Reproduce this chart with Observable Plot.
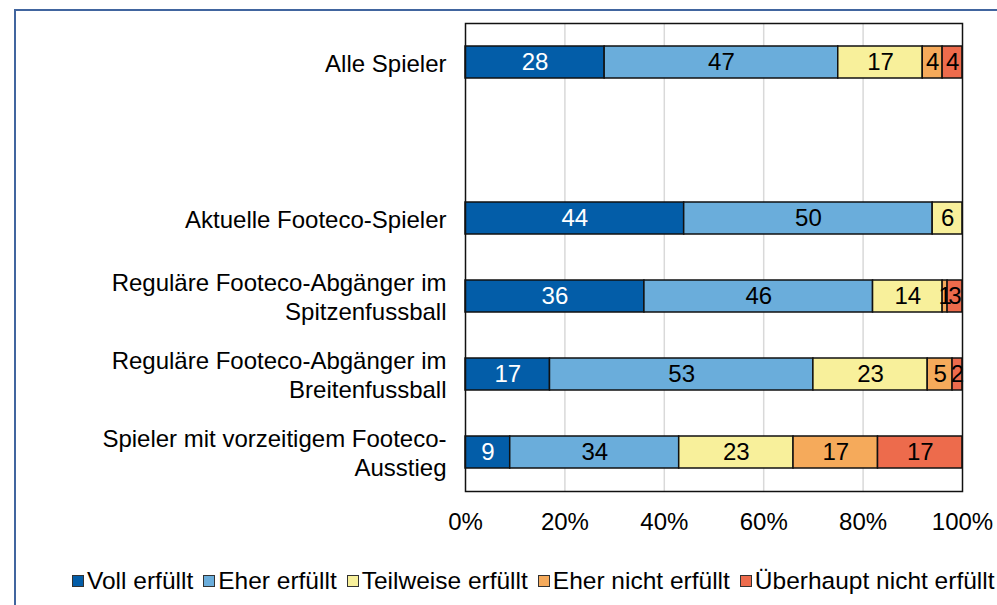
<!DOCTYPE html>
<html>
<head>
<meta charset="utf-8">
<script src="https://cdn.jsdelivr.net/npm/d3@7"></script>
<script src="https://cdn.jsdelivr.net/npm/@observablehq/plot@0.6"></script>
<style>
  html, body { margin: 0; padding: 0; background: #fff; }
  body { width: 997px; height: 605px; position: relative; overflow: hidden; font-family: "Liberation Sans", Arial, sans-serif; }
  #frame { position: absolute; left: 14px; top: 9px; width: 1200px; height: 800px; border-left: 2.5px solid #41659f; border-top: 2.5px solid #41659f; box-sizing: border-box; }
  #chart { position: absolute; left: 0; top: 0; }
  #legend { position: absolute; left: 72px; top: 567px; display: flex; align-items: center; font-size: 24.5px; color: #000; white-space: nowrap; }
  #legend .item { display: flex; align-items: center; margin-right: 10px; }
  #legend .sw { width: 10px; height: 10px; border: 1.5px solid #333; margin-right: 3px; }
</style>
</head>
<body>
<div id="frame"></div>
<div id="chart"></div>
<div id="legend"></div>
<script>
const groups = [
  "Alle Spieler",
  " ",
  "Aktuelle Footeco-Spieler",
  "Reguläre Footeco-Abgänger im\nSpitzenfussball",
  "Reguläre Footeco-Abgänger im\nBreitenfussball",
  "Spieler mit vorzeitigem Footeco-\nAusstieg"
];
const series = ["Voll erfüllt", "Eher erfüllt", "Teilweise erfüllt", "Eher nicht erfüllt", "Überhaupt nicht erfüllt"];
const colors = ["#035da8", "#6aaddb", "#f8f09b", "#f5aa5b", "#ed6b4c"];
const vollErfuellt      = [28, null, 44, 36, 17, 9];
const eherErfuellt      = [47, null, 50, 46, 53, 34];
const teilweiseErfuellt = [17, null, 6, 14, 23, 23];
const eherNichtErfuellt = [4, null, 0, 1, 5, 17];
const ueberhauptNicht   = [4, null, 0, 3, 2, 17];
const xTicks = [0, 20, 40, 60, 80, 100];
const gridTicks = [20, 40, 60, 80];

const valueArrays = [vollErfuellt, eherErfuellt, teilweiseErfuellt, eherNichtErfuellt, ueberhauptNicht];
const data = [];
groups.forEach((g, i) => {
  series.forEach((s, j) => {
    const v = valueArrays[j][i];
    if (v != null && v > 0) data.push({group: g, series: s, value: v});
  });
});

const font = "Liberation Sans, Arial, sans-serif";
const chart = Plot.plot({
  width: 997,
  height: 545,
  marginLeft: 465,
  marginRight: 35,
  marginTop: 23,
  marginBottom: 54,
  style: {fontFamily: font, fontSize: "24px", background: "transparent", color: "#000"},
  x: {domain: [0, 100]},
  y: {domain: groups, paddingInner: 0.59, paddingOuter: 0.295},
  color: {domain: series, range: colors},
  marks: [
    Plot.ruleX(gridTicks, {stroke: "#d9d9d9", strokeWidth: 1.5}),
    Plot.barX(data, Plot.stackX({x: "value", y: "group", fill: "series", order: series, stroke: "#111", strokeWidth: 1.5})),
    Plot.text(data, Plot.stackX({x: "value", y: "group", z: "series", order: series, text: d => String(d.value),
      fill: d => d.series === "Voll erfüllt" ? "#fff" : "#000", fontSize: 24, fontFamily: font})),
    Plot.frame({stroke: "#111", strokeWidth: 1.5}),
    Plot.axisY({tickSize: 0, tickPadding: 19, fontSize: 24, lineHeight: 1.17, label: null, fill: "#000"}),
    Plot.axisX({ticks: xTicks, tickFormat: d => d + "%", tickSize: 0, tickPadding: 21, fontSize: 24, label: null, fill: "#000"})
  ]
});
document.getElementById("chart").appendChild(chart);

const legend = document.getElementById("legend");
series.forEach((s, i) => {
  const item = document.createElement("div");
  item.className = "item";
  const sw = document.createElement("div");
  sw.className = "sw";
  sw.style.background = colors[i];
  const t = document.createElement("span");
  t.textContent = s;
  item.appendChild(sw);
  item.appendChild(t);
  legend.appendChild(item);
});
</script>
</body>
</html>
